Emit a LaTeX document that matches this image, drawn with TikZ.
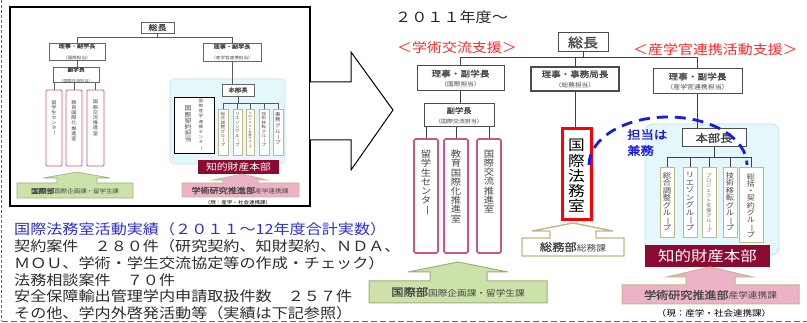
\documentclass[tikz,border=0pt]{standalone}
\usepackage{fontspec}
\setmainfont{Noto Sans CJK JP}[FakeStretch=1.15, AutoFakeBold=1.5]
\usepackage{graphicx}
\lineskiplimit=-100pt
\lineskip=0pt
\definecolor{txt}{RGB}{70,70,70}
\definecolor{pinkln}{RGB}{205,85,130}
\definecolor{cyanfill}{RGB}{228,248,252}
\definecolor{cyanln}{RGB}{195,228,236}
\definecolor{maroon}{RGB}{140,10,50}
\definecolor{gfill}{RGB}{203,226,168}
\definecolor{gline}{RGB}{160,175,120}
\definecolor{pfill}{RGB}{236,178,198}
\definecolor{bline}{RGB}{195,182,135}
\definecolor{titlered}{RGB}{255,40,40}
\definecolor{dblue}{RGB}{25,25,235}
\definecolor{hblue}{RGB}{45,45,225}
\definecolor{bodytxt}{RGB}{45,45,45}
\newcommand{\fs}[2]{\fontsize{#1}{#2}\selectfont}
\newcommand{\vb}{\rotatebox[origin=c]{-90}{ー}}
\begin{document}
\begin{tikzpicture}[x=1pt,y=-1pt,
 conn/.style={draw=black!75, line width=1pt},
 iconn/.style={draw=black!65, line width=0.6pt},
 box/.style={draw=black!70, line width=1pt, fill=white, inner sep=0pt, text=txt, align=center},
 ibox/.style={draw=black!60, line width=0.6pt, fill=white, inner sep=0pt, text=txt, align=center},
 pbox/.style={draw=pinkln, line width=1.6pt, fill=white, rounded corners=1.5pt, inner sep=0pt},
 ipbox/.style={draw=pinkln, line width=0.8pt, fill=white, rounded corners=1pt, inner sep=0pt},
 gbox/.style={draw=bline, line width=1pt, fill=white, inner sep=0pt},
 igbox/.style={draw=bline, line width=0.6pt, fill=white, inner sep=0pt},
 vtxt/.style={align=center, inner sep=0pt, text=txt, anchor=north},
 lbl/.style={inner sep=0pt, text=txt},
 body/.style={anchor=base west, inner sep=0pt, font=\fs{14}{16}, text=bodytxt},
]
\useasboundingbox (0,0) rectangle (807,323);
\fill[white] (0,0) rectangle (807,323);

% outer dashed frame parts
\coordinate (DL1) at (1.5,0);
\coordinate (DL2) at (1.5,321.5);
\coordinate (DL3) at (807,321.5);
\draw[black!60, line width=1pt, dash pattern=on 3pt off 2pt] (DL1) -- (DL2);
\draw[black!60, line width=1pt, dash pattern=on 6pt off 3pt] (DL2) -- (DL3);

% ================= inset =================
\node[draw=black, line width=1.2pt, minimum width=300pt, minimum height=199pt, inner sep=0pt] (INSET) at (160,106.5) {};
\node[draw=cyanln, fill=cyanfill, line width=0.6pt, rounded corners=4pt, minimum width=115pt, minimum height=85pt, inner sep=0pt] (iR) at (227.5,121.5) {};

\node[ibox, minimum width=33pt, minimum height=11pt, font=\fs{7.8}{8}\bfseries] (iS) at (157.5,27.5) {総長};
\node[ibox, minimum width=56pt, minimum height=17pt] (iJ1) at (77,51.5) {\fs{5.3}{6}\bfseries 理事・副学長\\[-1pt]\fs{4}{5}（国際担当）};
\node[ibox, minimum width=58pt, minimum height=18pt] (iJ2) at (232,52) {\fs{5.3}{6}\bfseries 理事・副学長\\[-1pt]\fs{4}{5}（産学官連携担当）};
\node[ibox, minimum width=46pt, minimum height=14pt] (iF) at (76,75) {\fs{5}{5.5}\bfseries 副学長\\[-1pt]\fs{3.6}{4.5}（国際交流担当）};

\node[ipbox, minimum width=16pt, minimum height=76pt] (iP1) at (54,128) {};
\node[ipbox, minimum width=16pt, minimum height=76pt] (iP2) at (74,128) {};
\node[ipbox, minimum width=17pt, minimum height=76pt] (iP3) at (95.5,128) {};
\node[vtxt, font=\fs{4.6}{5}] (iT1) at (54,100) {留\\学\\生\\セ\\ン\\タ\\\vb};
\node[vtxt, font=\fs{4.6}{5.2}] (iT2) at (74,100) {教\\育\\国\\際\\化\\推\\進\\室};
\node[vtxt, font=\fs{4.6}{5.2}] (iT3) at (95.5,100) {国\\際\\交\\流\\推\\進\\室};

\node[ibox, minimum width=32pt, minimum height=12pt, font=\fs{5.5}{6}\bfseries] (iH) at (238,90) {本部長};
\node[draw=black, line width=0.7pt, fill=white, minimum width=40pt, minimum height=56pt, inner sep=0pt] (iK) at (194,125) {};
\node[vtxt, font=\fs{6}{6.2}] (iKt1) at (188,106) {国\\際\\契\\約\\担\\当};
\node[vtxt, font=\fs{4}{5.2}] (iKt2) at (201,99) {国\\際\\産\\学\\連\\携\\セ\\ン\\タ\\\vb};

\node[igbox, minimum width=10pt, minimum height=46pt] (iG1) at (223,132) {};
\node[igbox, minimum width=9pt, minimum height=46pt] (iG2) at (237.5,132) {};
\node[igbox, minimum width=8pt, minimum height=46pt] (iG3) at (250,132) {};
\node[igbox, minimum width=10pt, minimum height=46pt] (iG4) at (264,132) {};
\node[igbox, minimum width=10pt, minimum height=46pt] (iG5) at (278,132) {};
\node[vtxt, font=\fs{4}{4.4}] (iGt1) at (223,112) {総\\合\\調\\整\\グ\\ル\\\vb\\プ};
\node[vtxt, font=\fs{4}{4.4}] (iGt2) at (237.5,112) {リ\\エ\\ゾ\\ン\\グ\\ル\\\vb\\プ};
\node[vtxt, font=\fs{3}{3.1}] (iGt3) at (250,112) {プ\\ロ\\ジ\\ェ\\ク\\ト\\支\\援\\グ\\ル\\\vb\\プ};
\node[vtxt, font=\fs{4}{4.4}] (iGt4) at (264,112) {技\\術\\移\\転\\グ\\ル\\\vb\\プ};
\node[vtxt, font=\fs{4.8}{5.6}] (iGt5) at (278,112) {事\\務\\グ\\ル\\\vb\\プ};

\node[fill=maroon, minimum width=81pt, minimum height=14pt, inner sep=0pt, text=white, font=\fs{9.4}{10}] (iC) at (238.5,167) {知的財産本部};

\draw[draw=gline, fill=gfill, line width=0.6pt] (17,198) -- (17,183) -- (57,183) -- (57,178) -- (43,178) -- (77,172) -- (110,178) -- (97,178) -- (97,183) -- (133,183) -- (133,198) -- cycle;
\node[lbl] (iGr) at (75,191) {{\fs{6.8}{7}\bfseries 国際部}{\fs{5.6}{6}国際企画課・留学生課}};
\draw[draw=bline, fill=pfill, line width=0.6pt] (182,197) -- (182,183) -- (223,183) -- (223,180) -- (213,180) -- (242,174) -- (267,180) -- (258,180) -- (258,183) -- (299,183) -- (299,197) -- cycle;
\node[lbl] (iPk) at (240,190.5) {{\fs{7.9}{8}\bfseries 学術研究推進部}{\fs{5.8}{6}産学連携課}};
\node[lbl, text=black, font=\fs{4.8}{5}] (iNow) at (238,202.5) {（現：産学・社会連携課）};

% inset connectors
\coordinate (iHL) at (0,37);
\coordinate (iTY) at (0,103);
\draw[iconn] (iS.south) -- (iS.south |- iHL);
\draw[iconn] (iJ1.north) -- (iJ1.north |- iHL) -| (iJ2.north);
\draw[iconn] (iJ1.south) -- (iJ1.south |- iF.north);
\draw[iconn] (iP1.north) -- (iP1.north |- iF.south);
\draw[iconn] (iP2.north) -- (iP2.north |- iF.south);
\draw[iconn] (iP3.north) -- (iP3.north |- iF.south);
\draw[iconn] (iJ2.south) -- (iJ2.south |- iH.north);
\draw[iconn] (iH.south) -- (iH.south |- iTY);
\draw[iconn] (iG1.north) -- (iG1.north |- iTY) -- (iG5.north |- iTY) -- (iG5.north);
\draw[iconn] (iG2.north) -- (iG2.north |- iTY);
\draw[iconn] (iG3.north) -- (iG3.north |- iTY);
\draw[iconn] (iG4.north) -- (iG4.north |- iTY);

% big arrow
\draw[black, line width=1pt, fill=white] (310,82) -- (351,82) -- (351,52) -- (393,110) -- (351,170) -- (351,140) -- (310,140);

% ================= bottom-left text =================
\node[body, text=hblue] (L1) at (14,235) {国際法務室活動実績（２０１１～12年度合計実数）};
\node[body] (L2) at (14,252) {契約案件　２８０件（研究契約、知財契約、ＮＤＡ、};
\node[body] (L3) at (14,268.5) {ＭＯＵ、学術・学生交流協定等の作成・チェック）};
\node[body] (L4) at (14,285.5) {法務相談案件　７０件};
\node[body] (L5) at (14,302) {安全保障輸出管理学内申請取扱件数　２５７件};
\node[body] (L6) at (14,318.5) {その他、学内外啓発活動等（実績は下記参照）};

% ================= main chart =================
\node[lbl, anchor=west, font=\fs{14}{15}, text=black!85] (YR) at (395,17) {２０１１年度～};
\node[lbl, anchor=west, font=\fs{13}{14}, text=titlered] (LA) at (397,48) {＜学術交流支援＞};
\node[lbl, anchor=west, font=\fs{13}{14}, text=titlered] (LB) at (633,50) {＜産学官連携活動支援＞};

\node[draw=cyanln, fill=cyanfill, line width=0.8pt, rounded corners=8pt, minimum width=134pt, minimum height=131pt, inner sep=0pt] (R) at (712,189.5) {};

\node[box, minimum width=50pt, minimum height=19pt, font=\fs{13}{14}\bfseries] (S) at (583,42.5) {総長};
\node[box, minimum width=87pt, minimum height=25pt] (J1) at (460.5,78.5) {\fs{8.4}{9}\bfseries 理事・副学長\\[-2pt]\fs{5.8}{7}（国際担当）};
\node[box, line width=2pt, minimum width=88pt, minimum height=24pt] (J2) at (575,79) {\fs{8.3}{9}\bfseries 理事・事務局長\\[-2pt]\fs{5.8}{7}（総務担当）};
\node[box, minimum width=89pt, minimum height=25pt] (J3) at (697.5,81.5) {\fs{8.4}{9}\bfseries 理事・副学長\\[-2pt]\fs{6}{7}（産学官連携担当）};
\node[box, minimum width=70pt, minimum height=23pt] (F) at (459,115.5) {\fs{7.2}{8}\bfseries 副学長\\[-2pt]\fs{5.2}{6}（国際交流担当）};

\node[pbox, minimum width=24pt, minimum height=114pt] (P1) at (426,196) {};
\node[pbox, minimum width=24pt, minimum height=114pt] (P2) at (456,196) {};
\node[pbox, minimum width=24pt, minimum height=114pt] (P3) at (489,196) {};
\node[vtxt, font=\fs{9}{9.2}] (T1) at (426,150) {留\\学\\生\\セ\\ン\\タ\\\vb};
\node[vtxt, font=\fs{9}{9.2}] (T2) at (456,150) {教\\育\\国\\際\\化\\推\\進\\室};
\node[vtxt, font=\fs{9}{9.2}] (T3) at (489,150) {国\\際\\交\\流\\推\\進\\室};

\node[draw=red, line width=3pt, fill=white, minimum width=29pt, minimum height=91pt, inner sep=0pt] (HM) at (576.5,174.5) {};
\node[align=center, inner sep=0pt, font=\fs{14.5}{15.2}, text=black] (HMt) at (576.5,176) {国\\際\\法\\務\\室};

\node[box, minimum width=64pt, minimum height=18pt, font=\fs{10.7}{11}\bfseries] (H) at (714,138) {本部長};

\node[gbox, minimum width=14pt, minimum height=70pt] (G1) at (667,203) {};
\node[gbox, minimum width=14pt, minimum height=70pt] (G2) at (690,203) {};
\node[gbox, minimum width=14pt, minimum height=70pt] (G3) at (709,203) {};
\node[gbox, minimum width=14pt, minimum height=70pt] (G4) at (730,203) {};
\node[gbox, minimum width=24pt, minimum height=75pt] (G5) at (751,205.5) {};
\node[vtxt, font=\fs{7.2}{7.5}] (Gt1) at (667,172) {総\\合\\調\\整\\グ\\ル\\\vb\\プ};
\node[vtxt, font=\fs{7.2}{7.5}] (Gt2) at (690,172) {リ\\エ\\ゾ\\ン\\グ\\ル\\\vb\\プ};
\node[vtxt, font=\fs{4.8}{5}, text=black!55] (Gt3) at (709,173) {プ\\ロ\\ジ\\ェ\\ク\\ト\\支\\援\\グ\\ル\\\vb\\プ};
\node[vtxt, font=\fs{7.2}{7.5}] (Gt4) at (730,172) {技\\術\\移\\転\\グ\\ル\\\vb\\プ};
\node[vtxt, font=\fs{7}{7.3}] (Gt5) at (751,173) {総\\括\\・\\契\\約\\グ\\ル\\\vb\\プ};

\node[fill=maroon, minimum width=125pt, minimum height=22pt, inner sep=0pt, text=white, font=\fs{14.3}{15}] (C) at (707.5,256) {知的財産本部};

% block arrows
\draw[draw=gline, fill=gfill, line width=1pt] (369,303) -- (369,281) -- (430,281) -- (430,272) -- (408,272) -- (458,262) -- (508,272) -- (487,272) -- (487,281) -- (547,281) -- (547,303) -- cycle;
\node[lbl] (Gr) at (458,292) {{\fs{10.7}{11}\bfseries 国際部}{\fs{8.4}{9}国際企画課・留学生課}};
\draw[draw=bline, fill=white, line width=1.4pt] (522,256) -- (522,238) -- (550,238) -- (550,231) -- (532,231) -- (573,223) -- (613,231) -- (596,231) -- (596,238) -- (624,238) -- (624,256) -- cycle;
\node[lbl] (Bg) at (573,247) {{\fs{10.7}{11}\bfseries 総務部}{\fs{8.5}{9}総務課}};
\draw[draw=bline, fill=pfill, line width=1pt] (622,304) -- (622,285) -- (686,285) -- (686,277) -- (667,277) -- (710,267) -- (753,277) -- (735,277) -- (735,285) -- (799,285) -- (799,304) -- cycle;
\node[lbl] (Pk) at (710.5,295) {{\fs{10.5}{11}\bfseries 学術研究推進部}{\fs{8.4}{9}産学連携課}};
\node[lbl, text=black, font=\fs{8.3}{9}] (Now) at (714,313) {（現：産学・社会連携課）};

% main connectors
\coordinate (HY) at (0,58);
\coordinate (TY) at (0,158);
\draw[conn] (S.south) -- (S.south |- HY);
\draw[conn] (J1.north) -- (J1.north |- HY) -| (J3.north);
\draw[conn] (J2.north) -- (J2.north |- HY);
\draw[conn] (J1.south) -- (J1.south |- F.north);
\draw[conn] (P1.north) -- (P1.north |- F.south);
\draw[conn] (P2.north) -- (P2.north |- F.south);
\draw[conn] (P3.north) -- (P3.north |- F.south);
\draw[conn] (J2.south) -- (J2.south |- HM.north);
\draw[conn] (J3.south) -- (J3.south |- H.north);
\draw[conn] (H.south) -- (H.south |- TY);
\draw[conn] (G1.north) -- (G1.north |- TY) -- (G5.north |- TY) -- (G5.north);
\draw[conn] (G2.north) -- (G2.north |- TY);
\draw[conn] (G3.north) -- (G3.north |- TY);
\draw[conn] (G4.north) -- (G4.north |- TY);

% dashed blue arc and label
\coordinate (ARC0) at (589,165);
\draw[dblue, line width=2.8pt, dash pattern=on 11pt off 7pt] (ARC0) arc[start angle=180, end angle=0, x radius=79pt, y radius=48pt];
\node[lbl, anchor=north west, align=left, font=\fs{11.6}{16}\bfseries, text=dblue] (KM) at (627,129) {担当は\\兼務};
\end{tikzpicture}
\end{document}
